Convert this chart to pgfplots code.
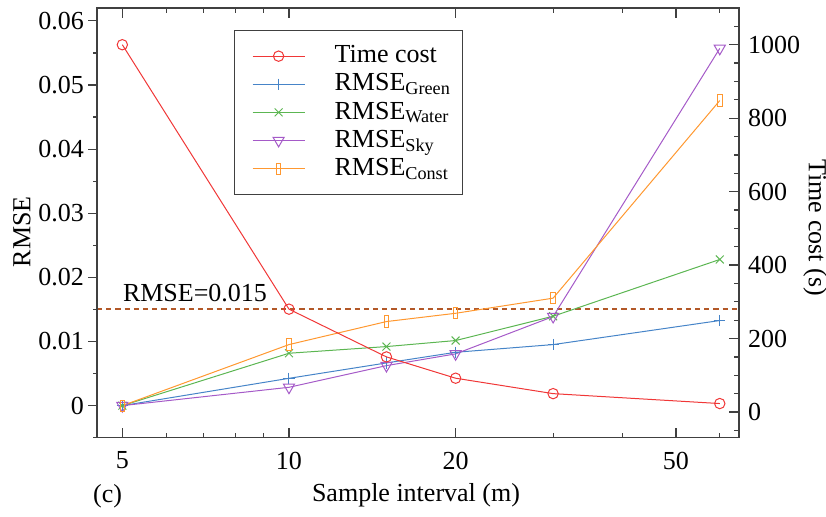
\documentclass[border=0pt]{standalone}
\usepackage{fontspec}
\setmainfont{Liberation Serif}
\usepackage{pgfplots}
\pgfplotsset{compat=1.18}
\definecolor{cred}{RGB}{240,55,55}
\definecolor{cblue}{RGB}{70,132,200}
\definecolor{cgreen}{RGB}{92,182,82}
\definecolor{cpurple}{RGB}{165,90,200}
\definecolor{corange}{RGB}{255,152,48}
\definecolor{cdash}{RGB}{178,88,40}
\definecolor{axgray}{RGB}{64,64,64}
\begin{document}
\fontsize{13}{15}\selectfont
\begin{tikzpicture}
\useasboundingbox (-48.5pt,-39.15pt) rectangle (364.5pt,218.85pt);
\begin{axis}[
  scale only axis, width=321pt, height=214.85pt,
  xmode=log, xmin=4.5, xmax=65,
  at={(0pt,0pt)}, anchor=south west,
  axis line style={color=axgray, line width=0.6pt},
  every tick/.style={axgray, line width=0.6pt},
  /pgf/number format/assume math mode=true,
  tick label style={font=\fontsize{13}{15}\selectfont},
  yticklabel style={xshift=2.5pt},
  clip=false,
  ymin=-0.005, ymax=0.062,
  ytick={0,0.01,0.02,0.03,0.04,0.05,0.06},
  yticklabels={0,0.01,0.02,0.03,0.04,0.05,0.06},
  minor ytick={-0.005,0.005,0.015,0.025,0.035,0.045,0.055},
  ytick pos=left, tick align=outside,
  xtick=\empty, minor xtick={},
  major tick length=4.5pt, minor tick length=2pt,
]
\addplot[cdash, line width=1pt, dash pattern=on 2.6pt off 2pt] coordinates {(4.5,0.015) (65,0.015)};
\addplot[cblue, line width=0.5pt, mark=+, mark size=2.8pt] coordinates {
(5,0) (10,0.00426) (15,0.00666) (20,0.00832) (30,0.00952) (60,0.01327)};
\addplot[cgreen, line width=0.5pt, mark=x, mark size=2.8pt] coordinates {
(5,0) (10,0.00817) (15,0.00921) (20,0.01015) (30,0.01394) (60,0.02279)};
\addplot[cpurple, line width=0.5pt, mark=triangle, mark size=3.2pt, mark options={rotate=180}] coordinates {
(5,0) (10,0.00286) (15,0.00624) (20,0.00807) (30,0.01389) (60,0.0557)};
\addplot[corange, line width=0.5pt, mark=square, mark size=2.8pt, mark options={xscale=0.4}] coordinates {
(5,0) (10,0.00952) (15,0.01311) (20,0.0144) (30,0.01676) (60,0.04757)};
\end{axis}
\begin{axis}[
  scale only axis, width=321pt, height=214.85pt,
  xmode=log, xmin=4.5, xmax=65,
  at={(0pt,0pt)}, anchor=south west,
  axis line style={color=axgray, line width=0.6pt},
  every tick/.style={axgray, line width=0.6pt},
  /pgf/number format/assume math mode=true,
  tick label style={font=\fontsize{13}{15}\selectfont},
  xticklabel style={yshift=-2.5pt},
  clip=false,
  ymin=-70, ymax=1100,
  ytick={0,200,400,600,800,1000},
  yticklabels={0,200,400,600,800,1000},
  minor ytick={-50,50,100,150,250,300,350,450,500,550,650,700,750,850,900,950,1050},
  ytick pos=right, yticklabel pos=right, tick align=inside,
  xtick={5,10,20,50}, xticklabels={5,10,20,50},
  minor xtick={6,7,8,9,30,40,60},
  xtick pos=both, xticklabel pos=lower,
  major tick length=5pt, minor tick length=2.5pt,
  legend cell align=left,
  legend style={at={(0.2134,0.9488)}, anchor=north west, draw=axgray, line width=0.6pt,
    font=\fontsize{13}{15}\selectfont, row sep=-0.5pt, inner xsep=4pt, inner ysep=5.5pt},
  legend image code/.code={\path[draw=none,fill=none] (-5pt,0pt) -- (39pt,0pt);\draw[mark repeat=2,mark phase=2,#1] plot coordinates {(0pt,0pt) (13pt,0pt) (26pt,0pt)};},
]
\addplot[cred, line width=0.5pt, mark=o, mark size=2.6pt] coordinates {
(5,1000) (10,280) (15,150) (20,92) (30,50) (60,23)};
\addlegendentry{Time cost}
\addlegendimage{cblue, line width=0.5pt, mark=+, mark size=2.8pt}
\addlegendentry{RMSE\textsubscript{Green}}
\addlegendimage{cgreen, line width=0.5pt, mark=x, mark size=2.8pt}
\addlegendentry{RMSE\textsubscript{Water}}
\addlegendimage{cpurple, line width=0.5pt, mark=triangle, mark size=3.2pt, mark options={rotate=180}}
\addlegendentry{RMSE\textsubscript{Sky}}
\addlegendimage{corange, line width=0.5pt, mark=square, mark size=2.8pt, mark options={xscale=0.4}}
\addlegendentry{RMSE\textsubscript{Const}}
\end{axis}
\node[rotate=90] at (-37.5pt,102.9pt) {RMSE};
\node[rotate=-90] at (359pt,105pt) {Time cost (s)};
\node at (159.5pt,-28.9pt) {Sample interval (m)};
\node at (5.3pt,-29.5pt) {(c)};
\node at (49pt,72.35pt) {RMSE=0.015};
\end{tikzpicture}
\end{document}
